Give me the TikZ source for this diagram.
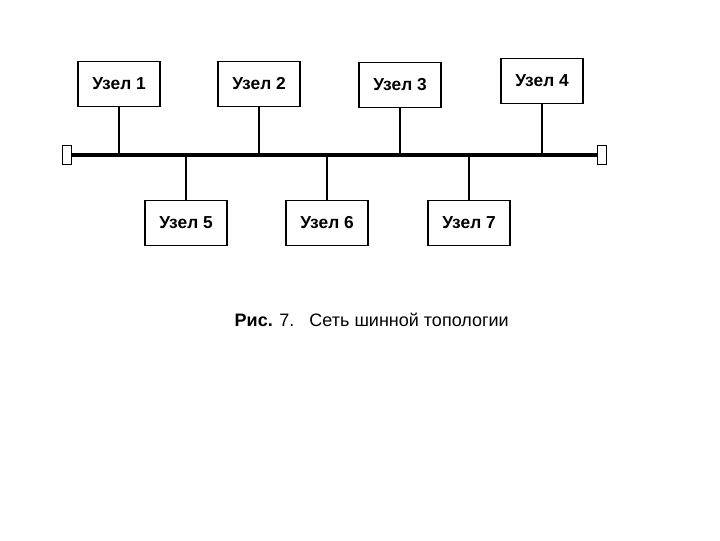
\documentclass[tikz,border=0pt]{standalone}
\usepackage{fontspec}
\setmainfont{Liberation Sans}
\begin{document}
\begin{tikzpicture}[x=0.75pt,y=-0.75pt,
  box/.style={draw,line width=1.2pt,minimum width=61.5pt,minimum height=34pt,inner sep=0pt,font=\bfseries\fontsize{13}{15}\selectfont},
  term/.style={draw,line width=1.2pt,minimum width=7pt,minimum height=14pt,inner sep=0pt},
  link/.style={line width=1pt},
  bus/.style={line width=3pt}]
\useasboundingbox (0,0) rectangle (720,540);
\node[box] (n1) at (119,84) {Узел 1};
\node[box] (n2) at (259,84) {Узел 2};
\node[box] (n3) at (400,85) {Узел 3};
\node[box] (n4) at (542,81) {Узел 4};
\node[box] (n5) at (186,223) {Узел 5};
\node[box] (n6) at (327,223) {Узел 6};
\node[box] (n7) at (469,223) {Узел 7};
\node[term] (tl) at (67,155) {};
\node[term] (tr) at (602,155) {};
\draw[bus] (tl.east) -- (tr.west);
\foreach \n in {n1,n2,n3,n4}{\draw[link] (\n.south) -- (\n.south |- 0,155);}
\foreach \n in {n5,n6,n7}{\draw[link] (\n.north) -- (\n.north |- 0,155);}
\node[font=\fontsize{13.5}{15}\selectfont,anchor=west] (cap) at (230,320) {\textbf{Рис.} 7.\ \ \ Сеть шинной топологии};
\end{tikzpicture}
\end{document}
